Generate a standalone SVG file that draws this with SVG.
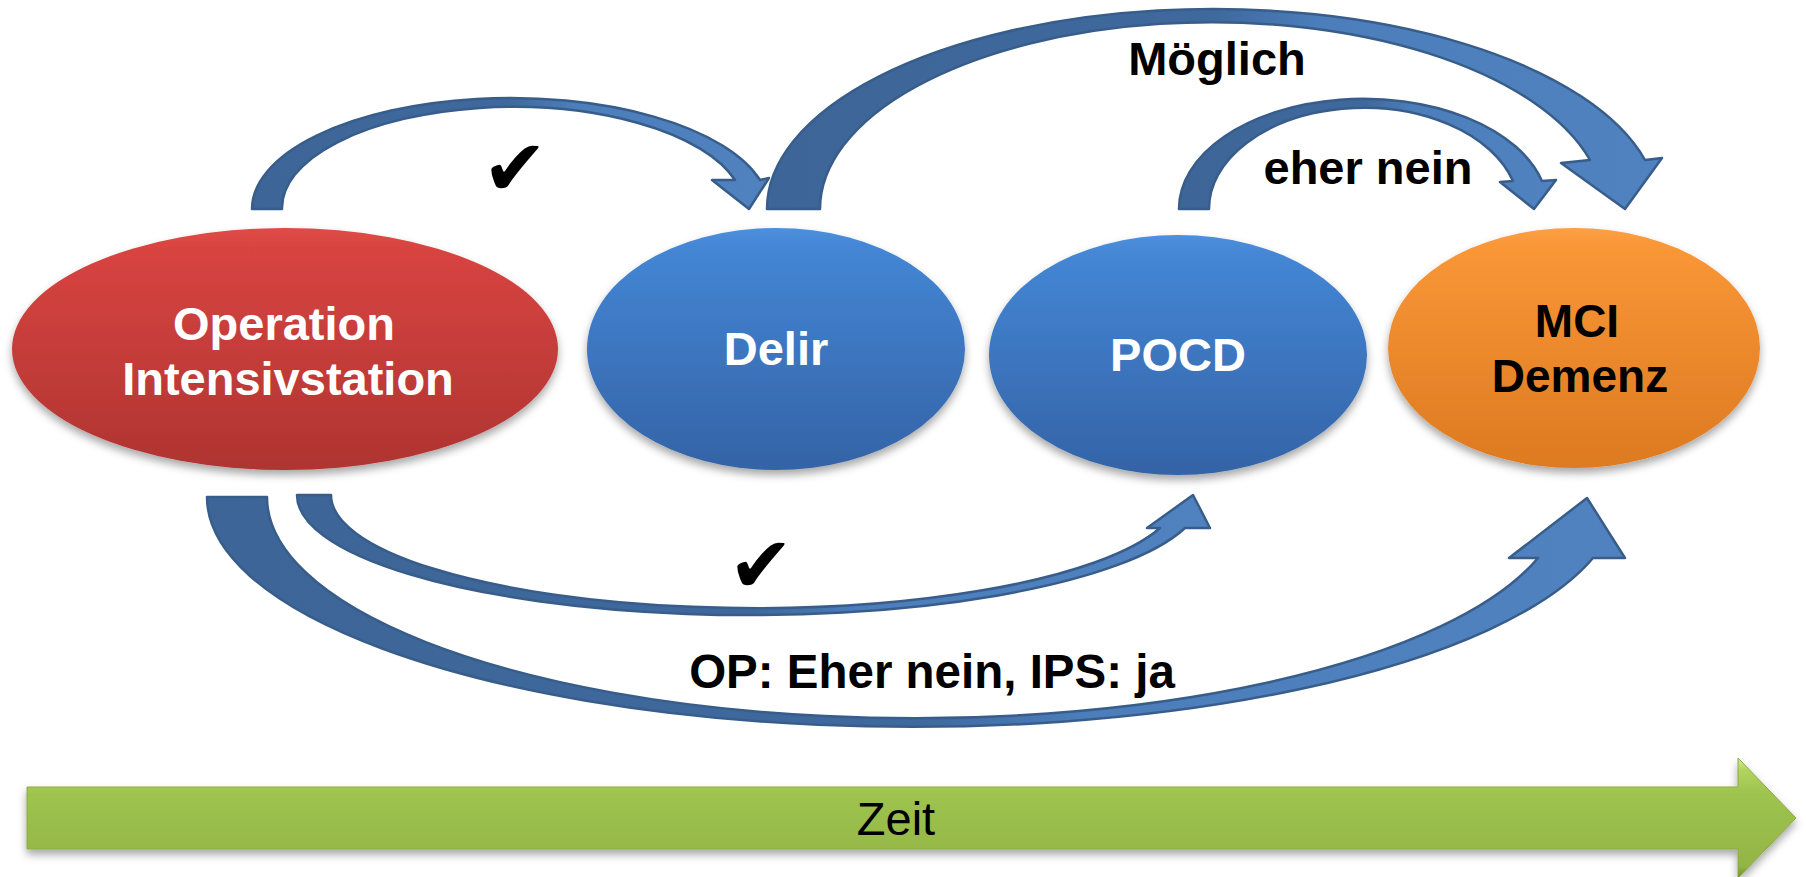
<svg xmlns="http://www.w3.org/2000/svg" width="1806" height="877" viewBox="0 0 1806 877">
<defs>
  <linearGradient id="gRed" x1="0" y1="0" x2="0" y2="1">
    <stop offset="0" stop-color="#E04B47"/>
    <stop offset="0.08" stop-color="#D84441"/>
    <stop offset="1" stop-color="#AF3431"/>
  </linearGradient>
  <linearGradient id="gBlue" x1="0" y1="0" x2="0" y2="1">
    <stop offset="0" stop-color="#4E90DD"/>
    <stop offset="0.08" stop-color="#4486D5"/>
    <stop offset="1" stop-color="#3463A6"/>
  </linearGradient>
  <linearGradient id="gOrange" x1="0" y1="0" x2="0" y2="1">
    <stop offset="0" stop-color="#FCA045"/>
    <stop offset="0.08" stop-color="#F99636"/>
    <stop offset="1" stop-color="#DD7A21"/>
  </linearGradient>
  <linearGradient id="gGreen" x1="0" y1="0" x2="0" y2="1">
    <stop offset="0" stop-color="#D6F08C"/>
    <stop offset="0.1" stop-color="#B1D45F"/>
    <stop offset="0.3" stop-color="#9EC34E"/>
    <stop offset="0.9" stop-color="#93B546"/>
    <stop offset="1" stop-color="#6F8C34"/>
  </linearGradient>
  <linearGradient id="gArrow" x1="0" y1="0" x2="1" y2="0">
    <stop offset="0" stop-color="#3D6597"/>
    <stop offset="0.5" stop-color="#3F699E"/>
    <stop offset="0.62" stop-color="#4B7EBB"/>
    <stop offset="1" stop-color="#4F82BF"/>
  </linearGradient>
  <filter id="shadow" x="-10%" y="-10%" width="120%" height="130%">
    <feDropShadow dx="0" dy="5" stdDeviation="4" flood-color="#000" flood-opacity="0.35"/>
  </filter>
  <style>
    .node-text { font-family: "Liberation Sans", Arial, sans-serif; font-weight: bold; font-size: 47px; text-anchor: middle; }
    .white { fill: #FFFFFF; }
    .black { fill: #000000; }
    .label { font-family: "Liberation Sans", Arial, sans-serif; font-weight: bold; font-size: 47px; text-anchor: middle; fill: #000; }
    .check { font-family: "DejaVu Sans", sans-serif; font-size: 78px; text-anchor: middle; fill: #000; }
    .conn { fill: url(#gArrow); stroke: #385D8A; stroke-width: 2.5; stroke-linejoin: round; }
  </style>
</defs>
<rect width="1806" height="877" fill="#FFFFFF"/>

<g id="connectors">
  <path class="conn" d="M 252 209 A 258.5 111 0 0 1 760 180 L 769 178 L 749 209 L 712 180 L 735 180 A 231 101 0 0 0 282 209 Z"/>
  <path class="conn" d="M 767 209 A 445.8 200 0 0 1 1645 160 L 1662 158 L 1625 209 L 1561 163 L 1590 160 A 391.9 187 0 0 0 820 209 Z"/>
  <path class="conn" d="M 1179 209 A 184.5 110 0 0 1 1542 181 L 1556 180 L 1534 209 L 1500 182 L 1513 181 A 155 101 0 0 0 1209 209 Z"/>
  <path class="conn" d="M 297 495 A 452.7 120 0 0 0 1185 528 L 1210 528 L 1193 495 L 1147 528 L 1160 528 A 423.7 113 0 0 1 331 495 Z"/>
  <path class="conn" d="M 207 497 A 705.7 230 0 0 0 1593 558 L 1625 558 L 1587 498 L 1509 558 L 1538 558 A 648 221 0 0 1 267 497 Z"/>
  <text class="label" x="1217" y="75">Möglich</text>
  <text class="label" x="1368" y="184">eher nein</text>
  <text class="label" x="932" y="688" style="font-size:47.5px">OP: Eher nein, IPS: ja</text>
  <text class="check" x="515" y="195">✔</text>
  <text class="check" x="761" y="592">✔</text>
</g>

<g id="node-operation">
  <ellipse cx="285" cy="349" rx="273" ry="121" fill="url(#gRed)" filter="url(#shadow)"/>
  <text class="node-text white" x="284" y="340">Operation</text>
  <text class="node-text white" x="288" y="395">Intensivstation</text>
</g>
<g id="node-delir">
  <ellipse cx="776" cy="349" rx="189" ry="121" fill="url(#gBlue)" filter="url(#shadow)"/>
  <text class="node-text white" x="776" y="365">Delir</text>
</g>
<g id="node-pocd">
  <ellipse cx="1178" cy="355" rx="189" ry="120" fill="url(#gBlue)" filter="url(#shadow)"/>
  <text class="node-text white" x="1178" y="371">POCD</text>
</g>
<g id="node-mci">
  <ellipse cx="1574" cy="348" rx="186" ry="120" fill="url(#gOrange)" filter="url(#shadow)"/>
  <text class="node-text black" x="1577" y="337" style="font-size:46px">MCI</text>
  <text class="node-text black" x="1580" y="392" style="font-size:46px">Demenz</text>
</g>

<g id="timeline">
  <path d="M 27 787 L 1738 787 L 1738 758 L 1796 818 L 1738 878 L 1738 849 L 27 849 Z" fill="url(#gGreen)" stroke="#8AAA45" stroke-width="1" filter="url(#shadow)"/>
  <text x="896" y="835" style="font-family:'Liberation Sans', Arial, sans-serif; font-size:47px; text-anchor:middle; fill:#000">Zeit</text>
</g>
</svg>
